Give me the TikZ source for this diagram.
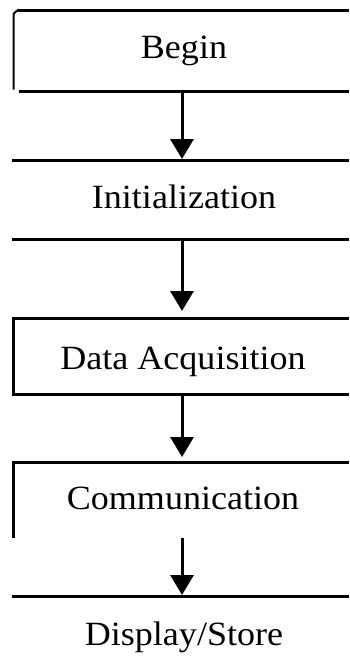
\documentclass[tikz,border=0pt]{standalone}
\usepackage{fontspec}
\setmainfont[FakeStretch=1.06]{Liberation Serif}
\usetikzlibrary{arrows.meta}
\begin{document}
\begin{tikzpicture}[x=1pt,y=-1pt,
  rule/.style={line width=3pt},
  thinrule/.style={line width=2pt},
  flow/.style={line width=3pt,-{Triangle[width=23pt,length=20pt]}},
  lbl/.style={font=\fontsize{34}{40}\selectfont, anchor=base, inner sep=0pt}]
\useasboundingbox (0,0) rectangle (349,670);
\fill[white] (0,0) rectangle (349,670);
% texts
\node[lbl] (begin) at (184,58) {Begin};
\node[lbl] (init) at (184,208) {Initialization};
\node[lbl] (daq) at (183,369) {Data Acquisition};
\node[lbl] (comm) at (183,509) {Communication};
\node[lbl] (disp) at (184,645) {Display/Store};
% frames
\draw[rule] (349,10.5) -- (17,10.5);
\draw[thinrule] (17,10.5) -- (13.5,14) -- (13.5,89.5);
\draw[rule] (19,91) -- (349,91);
\draw[rule] (12,160.5) -- (349,160.5);
\draw[rule] (12,239) -- (349,239);
\draw[rule] (349,318.5) -- (13.5,318.5) -- (13.5,394.5) -- (349,394.5);
\draw[rule] (349,462.5) -- (13.5,462.5) -- (13.5,538);
\draw[rule] (12,596) -- (349,596);
% connector ends
\coordinate (a1s) at (182,92.5);
\coordinate (a1e) at (182,159);
\coordinate (a2s) at (182,240.5);
\coordinate (a2e) at (182,311);
\coordinate (a3s) at (182,396);
\coordinate (a3e) at (182,457);
\coordinate (a4s) at (182,538);
\coordinate (a4e) at (182,595);
\draw[flow] (a1s) -- (a1e);
\draw[flow] (a2s) -- (a2e);
\draw[flow] (a3s) -- (a3e);
\draw[flow] (a4s) -- (a4e);
\end{tikzpicture}
\end{document}
